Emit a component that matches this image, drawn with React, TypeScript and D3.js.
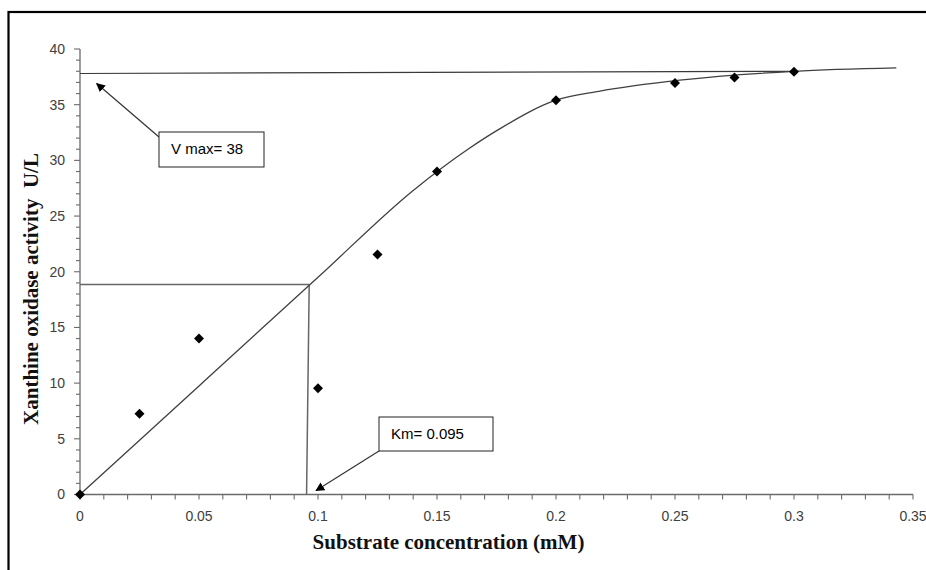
import React from "react";
import * as d3 from "d3";

// Measured data points (substrate concentration mM, activity U/L)
const pointX = [0, 0.025, 0.05, 0.1, 0.125, 0.15, 0.2, 0.25, 0.275, 0.3];
const pointY = [0, 7.25, 14.0, 9.55, 21.55, 29.0, 35.4, 36.95, 37.45, 37.95];

// Hand-drawn saturation curve
const curveX = [0, 0.05, 0.1, 0.14, 0.163, 0.1765, 0.2, 0.218, 0.252, 0.3, 0.343];
const curveY = [0, 9.75, 19.5, 27.3, 31.0, 32.85, 35.4, 36.2, 37.2, 38.0, 38.3];

// Vmax line & Km construction lines
const vmaxLineX = [0, 0.3];
const vmaxLineY = [37.8, 38.0];
const halfLineX = [0, 0.0963];
const halfLineY = [18.85, 18.85];
const kmLineX = [0.0952, 0.0963];
const kmLineY = [0, 18.85];

// Ticks
const xTicks = [0, 0.05, 0.1, 0.15, 0.2, 0.25, 0.3, 0.35];
const xTickLabels = ["0", "0.05", "0.1", "0.15", "0.2", "0.25", "0.3", "0.35"];
const yTicks = [0, 5, 10, 15, 20, 25, 30, 35, 40];
const yTickLabels = ["0", "5", "10", "15", "20", "25", "30", "35", "40"];
const xMinor = d3.range(0, 36).map((i) => i * 0.01);
const yMinor = d3.range(0, 41);

// Annotations
const vmaxText = "V max= 38";
const kmText = "Km= 0.095";
const vmaxArrowTip = [0.007, 36.9];
const kmArrowTip = [0.0992, 0.35];

const xTitle = "Substrate concentration (mM)";
const yTitle = "Xanthine oxidase activity  U/L";

const W = 926;
const H = 570;

export default function App() {
  const x = d3.scaleLinear().domain([0, 0.35]).range([80, 913]);
  const y = d3.scaleLinear().domain([0, 40]).range([494.5, 49]);

  const line = d3
    .line<[number, number]>()
    .x((d) => x(d[0]))
    .y((d) => y(d[1]));
  const smooth = d3
    .line<[number, number]>()
    .x((d) => x(d[0]))
    .y((d) => y(d[1]))
    .curve(d3.curveMonotoneX);

  const zip = (a: number[], b: number[]) =>
    a.map((v, i) => [v, b[i]] as [number, number]);

  const diamond = d3.symbol().type(d3.symbolSquare).size(50)();

  const axisColor = "#6b6b6b";
  const tickFont = "'Liberation Sans', Arial, sans-serif";

  // Box geometry (layout)
  const vBox = { x: 159, y: 132, w: 105, h: 35 };
  const kBox = { x: 379, y: 417, w: 114, h: 34 };

  return (
    <svg
      width={W}
      height={H}
      style={{ position: "absolute", left: 0, top: 0, display: "block", background: "#fff" }}
    >
      <defs>
        <marker
          id="arrowHead"
          viewBox="0 0 10 10"
          refX="9"
          refY="5"
          markerWidth="9"
          markerHeight="9"
          markerUnits="userSpaceOnUse"
          orient="auto"
        >
          <path d="M0,0 L10,5 L0,10 z" fill="#000" />
        </marker>
      </defs>
      <rect x={0} y={0} width={W} height={H} fill="#fff" />
      {/* outer frame */}
      <rect x={8.5} y={12} width={W + 20} height={H + 20} fill="none" stroke="#000" strokeWidth={2.2} />

      {/* Y axis */}
      <line x1={x(0)} x2={x(0)} y1={y(0)} y2={y(40)} stroke={axisColor} strokeWidth={1.3} />
      {yMinor.map((v) => (
        <line
          key={"ym" + v}
          x1={x(0) - (v % 5 === 0 ? 6 : 4)}
          x2={x(0)}
          y1={y(v)}
          y2={y(v)}
          stroke={axisColor}
          strokeWidth={1.1}
        />
      ))}
      {yTicks.map((v, i) => (
        <text
          key={"yl" + v}
          x={x(0) - 15}
          y={y(v)}
          dy="0.35em"
          textAnchor="end"
          fontFamily={tickFont}
          fontSize={14}
          fill="#404040"
        >
          {yTickLabels[i]}
        </text>
      ))}

      {/* X axis */}
      <line x1={x(0)} x2={x(0.35)} y1={y(0)} y2={y(0)} stroke={axisColor} strokeWidth={1.3} />
      {xMinor.map((v, i) => (
        <line
          key={"xm" + i}
          x1={x(v)}
          x2={x(v)}
          y1={y(0)}
          y2={y(0) + 5}
          stroke={axisColor}
          strokeWidth={1.1}
        />
      ))}
      {xTicks.map((v, i) => (
        <text
          key={"xl" + i}
          x={x(v)}
          y={y(0) + 22}
          dy="0.35em"
          textAnchor="middle"
          fontFamily={tickFont}
          fontSize={14}
          fill="#404040"
        >
          {xTickLabels[i]}
        </text>
      ))}

      {/* Titles */}
      <text
        x={448.5}
        y={549}
        textAnchor="middle"
        fontFamily="'Liberation Serif', 'Times New Roman', serif"
        fontWeight="bold"
        fontSize={21}
        fill="#111"
      >
        {xTitle}
      </text>
      <text
        transform="translate(38,289) rotate(-90)"
        textAnchor="middle"
        fontFamily="'Liberation Serif', 'Times New Roman', serif"
        fontWeight="bold"
        fontSize={21}
        fill="#111"
        style={{ whiteSpace: "pre" }}
      >
        {yTitle}
      </text>

      {/* construction lines */}
      <path d={line(zip(vmaxLineX, vmaxLineY)) || ""} fill="none" stroke="#3a3a3a" strokeWidth={1.2} />
      <path d={line(zip(halfLineX, halfLineY)) || ""} fill="none" stroke="#666" strokeWidth={1.5} />
      <path d={line(zip(kmLineX, kmLineY)) || ""} fill="none" stroke="#666" strokeWidth={1.5} />

      {/* curve */}
      <path d={smooth(zip(curveX, curveY)) || ""} fill="none" stroke="#404040" strokeWidth={1.3} />

      {/* points */}
      {pointX.map((v, i) => (
        <path
          key={"p" + i}
          d={diamond || ""}
          transform={`translate(${x(v)},${y(pointY[i])}) rotate(45)`}
          fill="#000"
        />
      ))}

      {/* Vmax annotation */}
      <line
        x1={vBox.x}
        y1={vBox.y + 5}
        x2={x(vmaxArrowTip[0])}
        y2={y(vmaxArrowTip[1])}
        stroke="#333"
        strokeWidth={1.2}
        markerEnd="url(#arrowHead)"
      />
      <rect x={vBox.x} y={vBox.y} width={vBox.w} height={vBox.h} fill="#fff" stroke="#222" strokeWidth={1} />
      <text x={vBox.x + 12} y={vBox.y + 22} fontFamily={tickFont} fontSize={15} fill="#000">
        {vmaxText}
      </text>

      {/* Km annotation */}
      <line
        x1={kBox.x}
        y1={kBox.y + kBox.h}
        x2={x(kmArrowTip[0])}
        y2={y(kmArrowTip[1])}
        stroke="#333"
        strokeWidth={1.2}
        markerEnd="url(#arrowHead)"
      />
      <rect x={kBox.x} y={kBox.y} width={kBox.w} height={kBox.h} fill="#fff" stroke="#222" strokeWidth={1} />
      <text x={kBox.x + 12} y={kBox.y + 22} fontFamily={tickFont} fontSize={15} fill="#000">
        {kmText}
      </text>
    </svg>
  );
}
